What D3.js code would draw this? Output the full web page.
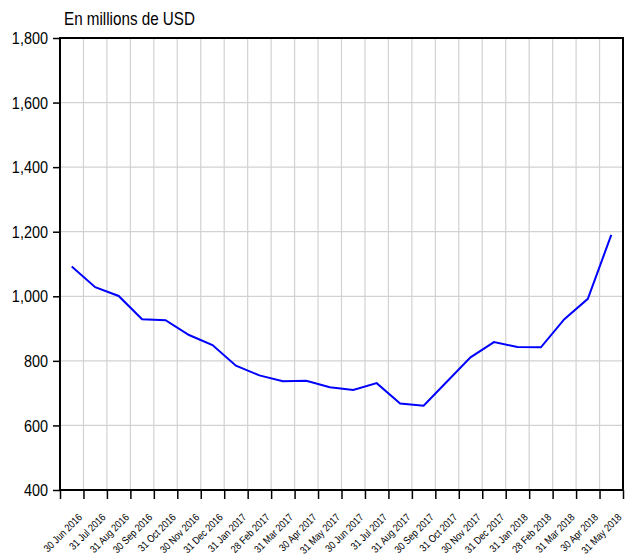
<!DOCTYPE html>
<html><head><meta charset="utf-8">
<script src="https://cdn.jsdelivr.net/npm/d3@7"></script>
<style>
body{margin:0;background:#fff;}
svg{display:block;}
text{font-family:"Liberation Sans",Arial,sans-serif;fill:#000;}
</style></head>
<body><svg id="c" width="634" height="558"></svg>
<script>
const months = ["30 Jun 2016","31 Jul 2016","31 Aug 2016","30 Sep 2016","31 Oct 2016","30 Nov 2016","31 Dec 2016","31 Jan 2017","28 Feb 2017","31 Mar 2017","30 Apr 2017","31 May 2017","30 Jun 2017","31 Jul 2017","31 Aug 2017","30 Sep 2017","31 Oct 2017","30 Nov 2017","31 Dec 2017","31 Jan 2018","28 Feb 2018","31 Mar 2018","30 Apr 2018","31 May 2018"];
const values = [1092,1028,1001,929,926,880,849,785,755,737,738,718,710,731,668,661,736,811,858,843,842,929,992,1190];
const yTicks = [400,600,800,1000,1200,1400,1600,1800];
const title = "En millions de USD";

const L=60, R=623, T=38, B=490;
const svg = d3.select("#c");
const x = d3.scaleBand().domain(months).range([L,R]).paddingInner(0).paddingOuter(0);
const xi = d3.scaleLinear().domain([0,months.length]).range([L,R]);
const y = d3.scaleLinear().domain([400,1800]).range([B,T]);
const fmt = d3.format(",");

// gridlines
svg.append("g").selectAll("line").data(d3.range(1,months.length)).join("line")
  .attr("x1",d=>xi(d)).attr("x2",d=>xi(d)).attr("y1",T).attr("y2",B)
  .attr("stroke","#d2d2d2").attr("stroke-width",1.2);
svg.append("g").selectAll("line").data(yTicks.slice(1,-1)).join("line")
  .attr("x1",L).attr("x2",R).attr("y1",d=>y(d)).attr("y2",d=>y(d))
  .attr("stroke","#d2d2d2").attr("stroke-width",1.2);

// frame
svg.append("rect").attr("x",L).attr("y",T).attr("width",R-L).attr("height",B-T)
  .attr("fill","none").attr("stroke","#000").attr("stroke-width",2);

// y axis ticks
const ya = svg.append("g").attr("transform",`translate(${L},0)`)
  .call(d3.axisLeft(y).tickValues(yTicks).tickFormat("").tickSize(7));
ya.select(".domain").remove();
ya.selectAll("line").attr("stroke","#000").attr("stroke-width",1.5);
// y labels
svg.append("g").selectAll("text").data(yTicks).join("text")
  .attr("transform",d=>`translate(${L-12},${y(d)}) scale(0.85,1)`)
  .attr("text-anchor","end").attr("dy","0.36em")
  .style("font-size","17px").text(d=>fmt(d));

// x axis ticks
const xa = svg.append("g").attr("transform",`translate(0,${B})`)
  .call(d3.axisBottom(xi).tickValues(d3.range(0,months.length+1)).tickFormat("").tickSize(9));
xa.select(".domain").remove();
xa.selectAll("line").attr("stroke","#000").attr("stroke-width",1.5);

// x labels
svg.append("g").selectAll("text").data(months).join("text")
  .attr("transform",d=>`translate(${x(d)+x.bandwidth()/2+11},${B+28}) rotate(-45) scale(0.85,1)`)
  .attr("text-anchor","end")
  .style("font-size","10.5px").text(d=>d);

// line
svg.append("path").datum(values)
  .attr("d",d3.line().x((d,i)=>x(months[i])+x.bandwidth()/2).y(d=>y(d)))
  .attr("fill","none").attr("stroke","#0000ff").attr("stroke-width",2);

// title
svg.append("text").attr("transform","translate(64,25) scale(0.845,1)")
  .style("font-size","18px").text(title);
</script></body></html>
